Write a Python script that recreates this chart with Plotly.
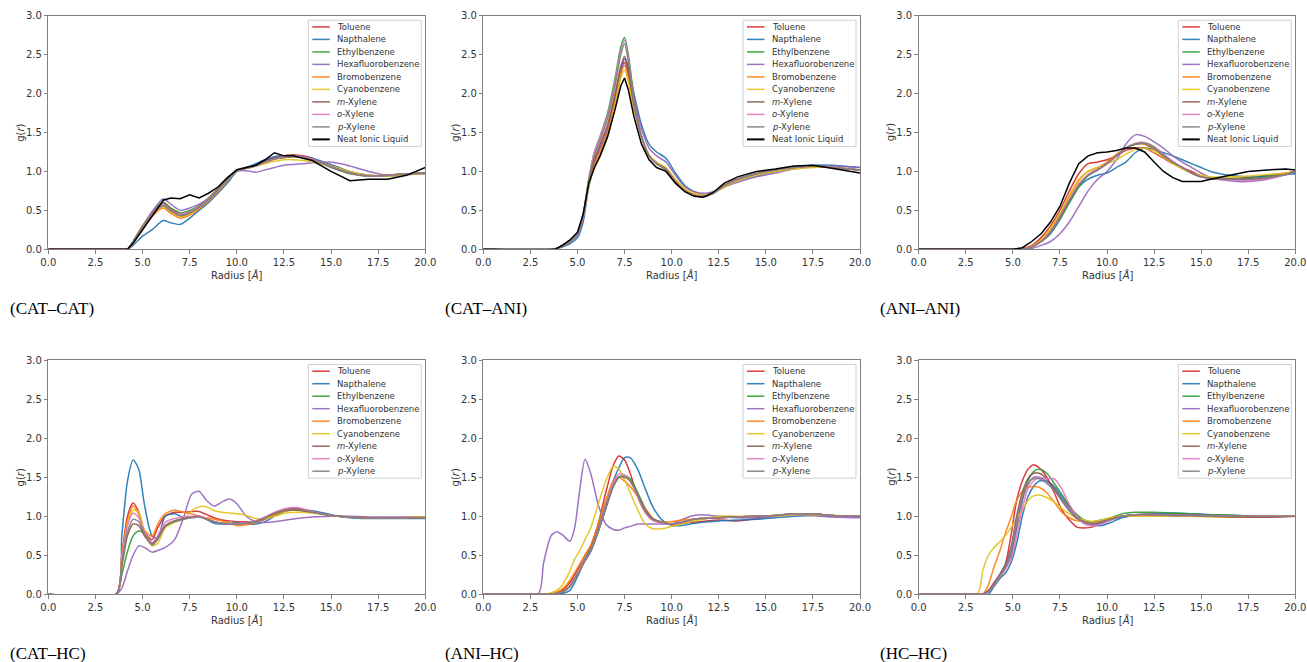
import plotly.graph_objects as go

# ---------------- labels / colours ----------------
SERIES = ["Toluene", "Napthalene", "Ethylbenzene", "Hexafluorobenzene", "Bromobenzene",
          "Cyanobenzene", "m-Xylene", "o-Xylene", "p-Xylene", "Neat Ionic Liquid"]
LEGEND_TEXT = ["Toluene", "Napthalene", "Ethylbenzene", "Hexafluorobenzene", "Bromobenzene",
               "Cyanobenzene", "<i>m</i>-Xylene", "<i>o</i>-Xylene", "<i>p</i>-Xylene", "Neat Ionic Liquid"]
COLORS = ["#d62728", "#1f77b4", "#2ca02c", "#9467bd", "#ff7f0e",
          "#e3c21a", "#8c564b", "#e377c2", "#7f7f7f", "#000000"]
PANEL_TITLES = ["(CAT–CAT)", "(CAT–ANI)", "(ANI–ANI)", "(CAT–HC)", "(ANI–HC)", "(HC–HC)"]
X_TICKS = [0.0, 2.5, 5.0, 7.5, 10.0, 12.5, 15.0, 17.5, 20.0]
Y_TICKS = [0.0, 0.5, 1.0, 1.5, 2.0, 2.5, 3.0]

# ---------------- CAT–CAT ----------------
r_catcat = [0, 4.0, 4.2, 4.5, 5.0, 5.5, 6.1, 6.5, 7.0, 7.5, 8.0, 8.5, 9.0, 9.5, 10.0, 10.5,
            11.0, 11.5, 12.0, 12.5, 13.0, 13.5, 14.0, 15.0, 16.0, 17.0, 18.0, 19.0, 20.0]
catcat_toluene = [0, 0, 0, 0.1, 0.3, 0.45, 0.6, 0.52, 0.45, 0.48, 0.55, 0.65, 0.78, 0.9, 1.02, 1.05, 1.08, 1.14, 1.18, 1.2, 1.21, 1.2, 1.17, 1.06, 0.98, 0.94, 0.95, 0.97, 0.98]
catcat_napthalene = [0, 0, 0, 0.05, 0.17, 0.25, 0.37, 0.34, 0.32, 0.4, 0.5, 0.6, 0.72, 0.85, 1.0, 1.05, 1.1, 1.15, 1.19, 1.2, 1.2, 1.19, 1.17, 1.09, 1.0, 0.95, 0.94, 0.96, 0.97]
catcat_ethyl = [0, 0, 0, 0.1, 0.3, 0.48, 0.6, 0.53, 0.47, 0.5, 0.56, 0.66, 0.78, 0.9, 1.02, 1.04, 1.07, 1.12, 1.16, 1.18, 1.19, 1.18, 1.15, 1.05, 0.97, 0.94, 0.95, 0.97, 0.98]
catcat_hexa = [0, 0, 0, 0.08, 0.28, 0.48, 0.65, 0.58, 0.5, 0.53, 0.58, 0.65, 0.75, 0.88, 1.0, 1.01, 0.99, 1.02, 1.05, 1.08, 1.09, 1.1, 1.11, 1.12, 1.07, 1.0, 0.95, 0.96, 0.97]
catcat_bromo = [0, 0, 0, 0.08, 0.25, 0.42, 0.53, 0.46, 0.4, 0.44, 0.52, 0.62, 0.74, 0.88, 1.01, 1.04, 1.07, 1.12, 1.16, 1.18, 1.19, 1.18, 1.15, 1.07, 0.99, 0.95, 0.95, 0.97, 0.98]
catcat_cyano = [0, 0, 0, 0.08, 0.27, 0.44, 0.55, 0.48, 0.42, 0.46, 0.54, 0.63, 0.75, 0.88, 1.01, 1.04, 1.07, 1.1, 1.13, 1.15, 1.15, 1.14, 1.12, 1.07, 1.0, 0.95, 0.94, 0.96, 0.97]
catcat_mxyl = [0, 0, 0, 0.09, 0.28, 0.45, 0.57, 0.5, 0.44, 0.47, 0.54, 0.64, 0.76, 0.89, 1.01, 1.04, 1.08, 1.13, 1.17, 1.2, 1.21, 1.19, 1.16, 1.06, 0.98, 0.94, 0.95, 0.97, 0.98]
catcat_oxyl = [0, 0, 0, 0.09, 0.29, 0.46, 0.58, 0.5, 0.45, 0.48, 0.55, 0.65, 0.77, 0.89, 1.01, 1.04, 1.07, 1.12, 1.16, 1.19, 1.2, 1.19, 1.16, 1.06, 0.98, 0.94, 0.95, 0.97, 0.98]
catcat_pxyl = [0, 0, 0, 0.09, 0.28, 0.45, 0.56, 0.49, 0.43, 0.47, 0.54, 0.64, 0.76, 0.89, 1.01, 1.04, 1.07, 1.12, 1.16, 1.18, 1.19, 1.18, 1.15, 1.06, 0.98, 0.94, 0.95, 0.97, 0.98]
catcat_neat = [0, 0, 0, 0.08, 0.25, 0.42, 0.63, 0.66, 0.65, 0.7, 0.66, 0.72, 0.8, 0.92, 1.02, 1.05, 1.08, 1.15, 1.24, 1.2, 1.2, 1.17, 1.14, 1.0, 0.88, 0.9, 0.9, 0.95, 1.05]

# ---------------- CAT–ANI ----------------
r_catani = [0, 3.8, 4.2, 4.6, 5.0, 5.3, 5.6, 5.9, 6.2, 6.6, 7.0, 7.3, 7.5, 7.7, 8.0, 8.4, 8.8,
            9.2, 9.7, 10.2, 10.7, 11.2, 11.7, 12.2, 12.8, 13.5, 14.5, 15.5, 16.5, 17.5, 18.5, 20.0]
catani_toluene = [0, 0, 0.05, 0.1, 0.2, 0.42, 0.85, 1.1, 1.3, 1.55, 1.95, 2.3, 2.4, 2.25, 1.85, 1.45, 1.2, 1.1, 1.03, 0.88, 0.76, 0.7, 0.68, 0.72, 0.82, 0.9, 0.97, 1.02, 1.05, 1.07, 1.05, 1.02]
catani_napthalene = [0, 0, 0.03, 0.07, 0.15, 0.35, 0.8, 1.05, 1.2, 1.45, 1.85, 2.25, 2.45, 2.35, 2.0, 1.6, 1.35, 1.25, 1.17, 0.98, 0.82, 0.74, 0.7, 0.72, 0.8, 0.88, 0.94, 1.0, 1.05, 1.08, 1.08, 1.05]
catani_ethyl = [0, 0, 0.05, 0.1, 0.2, 0.45, 0.9, 1.25, 1.45, 1.75, 2.2, 2.6, 2.72, 2.5, 1.95, 1.45, 1.2, 1.1, 1.02, 0.86, 0.75, 0.69, 0.68, 0.72, 0.82, 0.9, 0.97, 1.02, 1.05, 1.07, 1.05, 1.02]
catani_hexa = [0, 0, 0.04, 0.09, 0.18, 0.4, 0.85, 1.15, 1.3, 1.55, 1.95, 2.3, 2.45, 2.3, 1.95, 1.55, 1.3, 1.2, 1.12, 0.95, 0.8, 0.74, 0.72, 0.74, 0.8, 0.86, 0.93, 0.98, 1.03, 1.06, 1.07, 1.05]
catani_bromo = [0, 0, 0.05, 0.1, 0.2, 0.42, 0.85, 1.1, 1.25, 1.5, 1.9, 2.25, 2.36, 2.2, 1.8, 1.45, 1.2, 1.1, 1.03, 0.88, 0.76, 0.7, 0.68, 0.72, 0.82, 0.9, 0.97, 1.02, 1.05, 1.07, 1.05, 1.02]
catani_cyano = [0, 0, 0.05, 0.1, 0.2, 0.42, 0.82, 1.05, 1.2, 1.45, 1.85, 2.2, 2.3, 2.15, 1.8, 1.45, 1.22, 1.12, 1.05, 0.9, 0.78, 0.72, 0.7, 0.72, 0.8, 0.88, 0.95, 1.0, 1.03, 1.05, 1.05, 1.02]
catani_mxyl = [0, 0, 0.05, 0.1, 0.2, 0.43, 0.87, 1.15, 1.35, 1.6, 2.0, 2.35, 2.48, 2.3, 1.85, 1.45, 1.2, 1.1, 1.03, 0.87, 0.75, 0.69, 0.68, 0.72, 0.82, 0.9, 0.97, 1.02, 1.05, 1.07, 1.05, 1.02]
catani_oxyl = [0, 0, 0.05, 0.1, 0.2, 0.45, 0.9, 1.25, 1.45, 1.72, 2.15, 2.55, 2.68, 2.45, 1.9, 1.45, 1.2, 1.1, 1.02, 0.86, 0.75, 0.69, 0.68, 0.72, 0.82, 0.9, 0.97, 1.02, 1.05, 1.07, 1.05, 1.02]
catani_pxyl = [0, 0, 0.05, 0.1, 0.2, 0.44, 0.88, 1.2, 1.4, 1.68, 2.1, 2.5, 2.64, 2.42, 1.9, 1.45, 1.2, 1.1, 1.02, 0.86, 0.75, 0.69, 0.68, 0.72, 0.82, 0.9, 0.97, 1.02, 1.05, 1.07, 1.05, 1.02]
catani_neat = [0, 0, 0.05, 0.12, 0.22, 0.45, 0.85, 1.05, 1.2, 1.45, 1.8, 2.1, 2.2, 2.05, 1.7, 1.35, 1.15, 1.05, 1.0, 0.85, 0.74, 0.68, 0.67, 0.73, 0.85, 0.93, 1.0, 1.03, 1.07, 1.08, 1.04, 0.98]

# ---------------- ANI–ANI ----------------
r_aniani = [0, 5.0, 5.5, 6.0, 6.5, 7.0, 7.5, 8.0, 8.5, 9.0, 9.5, 10.0, 10.5, 11.0, 11.5, 12.0,
            12.5, 13.0, 13.5, 14.0, 14.5, 15.0, 15.5, 16.5, 17.5, 18.5, 19.5, 20.0]
aniani_toluene = [0, 0, 0.01, 0.05, 0.15, 0.3, 0.5, 0.75, 0.97, 1.1, 1.12, 1.15, 1.2, 1.27, 1.3, 1.3, 1.24, 1.17, 1.1, 1.05, 1.0, 0.94, 0.91, 0.91, 0.92, 0.95, 0.98, 1.0]
aniani_napthalene = [0, 0, 0, 0.03, 0.1, 0.2, 0.38, 0.6, 0.8, 0.9, 0.95, 0.98, 1.05, 1.12, 1.24, 1.3, 1.28, 1.24, 1.2, 1.15, 1.1, 1.05, 1.0, 0.95, 0.93, 0.94, 0.96, 0.97]
aniani_ethyl = [0, 0, 0, 0.03, 0.1, 0.22, 0.4, 0.6, 0.8, 0.95, 1.02, 1.1, 1.2, 1.3, 1.36, 1.37, 1.32, 1.22, 1.12, 1.05, 0.98, 0.93, 0.92, 0.91, 0.91, 0.93, 0.97, 1.0]
aniani_hexa = [0, 0, 0, 0.01, 0.05, 0.1, 0.2, 0.35, 0.55, 0.75, 0.9, 1.0, 1.15, 1.35, 1.47, 1.45, 1.38, 1.3, 1.2, 1.12, 1.05, 0.98, 0.92, 0.88, 0.87, 0.9, 0.96, 1.0]
aniani_bromo = [0, 0, 0, 0.04, 0.12, 0.25, 0.45, 0.68, 0.88, 1.0, 1.05, 1.12, 1.22, 1.3, 1.35, 1.35, 1.28, 1.2, 1.12, 1.05, 0.98, 0.93, 0.91, 0.9, 0.9, 0.92, 0.97, 1.0]
aniani_cyano = [0, 0, 0, 0.04, 0.12, 0.27, 0.47, 0.7, 0.9, 1.0, 1.05, 1.1, 1.15, 1.22, 1.28, 1.3, 1.25, 1.18, 1.1, 1.03, 0.98, 0.95, 0.93, 0.93, 0.94, 0.96, 0.98, 1.0]
aniani_mxyl = [0, 0, 0, 0.03, 0.1, 0.22, 0.42, 0.63, 0.83, 0.95, 1.02, 1.1, 1.2, 1.3, 1.35, 1.36, 1.3, 1.2, 1.12, 1.05, 0.98, 0.93, 0.91, 0.9, 0.9, 0.92, 0.96, 1.0]
aniani_oxyl = [0, 0, 0, 0.03, 0.1, 0.23, 0.42, 0.64, 0.84, 0.96, 1.03, 1.1, 1.2, 1.3, 1.36, 1.37, 1.31, 1.22, 1.13, 1.05, 0.98, 0.93, 0.91, 0.89, 0.88, 0.91, 0.96, 1.0]
aniani_pxyl = [0, 0, 0, 0.03, 0.1, 0.22, 0.41, 0.62, 0.82, 0.95, 1.02, 1.1, 1.2, 1.3, 1.35, 1.36, 1.3, 1.2, 1.12, 1.05, 0.98, 0.93, 0.91, 0.9, 0.9, 0.92, 0.96, 1.0]
aniani_neat = [0, 0, 0.02, 0.1, 0.2, 0.35, 0.55, 0.85, 1.1, 1.2, 1.24, 1.25, 1.27, 1.3, 1.3, 1.25, 1.12, 1.0, 0.92, 0.87, 0.87, 0.87, 0.9, 0.95, 1.0, 1.02, 1.03, 1.02]

# ---------------- CAT–HC ----------------
r_cathc = [0, 3.6, 3.9, 4.2, 4.5, 4.8, 5.1, 5.5, 5.8, 6.2, 6.7, 7.2, 7.6, 8.0, 8.4, 8.8, 9.2,
           9.6, 10.0, 10.5, 11.0, 11.5, 12.0, 12.6, 13.2, 14.0, 15.0, 16.0, 17.0, 18.5, 20.0]
cathc_toluene = [0, 0, 0.5, 1.0, 1.17, 1.05, 0.8, 0.7, 0.85, 1.0, 1.05, 1.05, 1.06, 1.06, 1.02, 0.98, 0.95, 0.94, 0.93, 0.93, 0.93, 0.96, 1.02, 1.09, 1.1, 1.06, 1.01, 0.99, 0.98, 0.98, 0.99]
cathc_napthalene = [0, 0, 0.75, 1.45, 1.72, 1.6, 1.15, 0.75, 0.72, 1.0, 1.03, 0.98, 0.99, 1.0, 0.96, 0.91, 0.9, 0.9, 0.92, 0.9, 0.9, 0.93, 1.0, 1.07, 1.08, 1.07, 1.02, 0.98, 0.97, 0.97, 0.97]
cathc_ethyl = [0, 0, 0.25, 0.55, 0.75, 0.81, 0.78, 0.66, 0.72, 0.87, 0.94, 0.97, 0.99, 1.0, 0.96, 0.93, 0.91, 0.91, 0.91, 0.92, 0.94, 0.98, 1.03, 1.07, 1.08, 1.05, 1.01, 0.99, 0.98, 0.98, 0.98]
cathc_hexa = [0, 0, 0.08, 0.3, 0.5, 0.62, 0.6, 0.54, 0.56, 0.6, 0.7, 1.0, 1.28, 1.32, 1.2, 1.13, 1.18, 1.22, 1.16, 1.0, 0.93, 0.92, 0.93, 0.95, 0.97, 0.99, 1.0, 1.0, 0.99, 0.99, 0.99]
cathc_bromo = [0, 0, 0.5, 0.95, 1.13, 1.02, 0.82, 0.74, 0.9, 1.03, 1.08, 1.05, 1.03, 1.0, 0.98, 0.96, 0.94, 0.91, 0.88, 0.89, 0.92, 0.97, 1.02, 1.07, 1.08, 1.05, 1.01, 0.99, 0.98, 0.98, 0.99]
cathc_cyano = [0, 0, 0.45, 0.9, 1.08, 1.05, 0.8, 0.62, 0.65, 0.85, 0.92, 0.97, 1.07, 1.12, 1.12, 1.07, 1.05, 1.04, 1.03, 1.01, 0.97, 0.97, 1.0, 1.04, 1.05, 1.04, 1.01, 0.99, 0.98, 0.98, 0.99]
cathc_mxyl = [0, 0, 0.35, 0.75, 0.9, 0.88, 0.75, 0.64, 0.72, 0.88, 0.94, 0.97, 0.99, 1.0, 0.96, 0.93, 0.91, 0.9, 0.9, 0.91, 0.93, 0.98, 1.04, 1.08, 1.08, 1.05, 1.01, 0.99, 0.98, 0.98, 0.98]
cathc_oxyl = [0, 0, 0.45, 0.88, 1.04, 0.98, 0.8, 0.66, 0.75, 0.92, 0.97, 0.99, 1.0, 1.0, 0.97, 0.93, 0.91, 0.9, 0.91, 0.92, 0.94, 0.99, 1.05, 1.1, 1.11, 1.06, 1.01, 0.99, 0.98, 0.98, 0.98]
cathc_pxyl = [0, 0, 0.4, 0.8, 0.96, 0.93, 0.78, 0.63, 0.7, 0.87, 0.93, 0.96, 0.98, 0.99, 0.96, 0.93, 0.91, 0.9, 0.9, 0.91, 0.93, 0.98, 1.04, 1.08, 1.09, 1.05, 1.01, 0.99, 0.98, 0.98, 0.98]

# ---------------- ANI–HC ----------------
r_anihc = [0, 2.9, 3.2, 3.6, 3.9, 4.2, 4.6, 4.85, 5.1, 5.4, 5.7, 6.1, 6.5, 6.9, 7.2, 7.5, 7.8,
           8.2, 8.6, 9.0, 9.5, 10.0, 10.5, 11.0, 11.5, 12.5, 13.5, 14.5, 15.5, 16.5, 17.5, 18.5, 20.0]
anihc_toluene = [0, 0, 0, 0, 0.02, 0.05, 0.15, 0.25, 0.35, 0.5, 0.62, 0.9, 1.3, 1.65, 1.77, 1.72, 1.55, 1.25, 1.05, 0.95, 0.92, 0.9, 0.91, 0.92, 0.93, 0.95, 0.94, 0.97, 1.0, 1.03, 1.03, 1.01, 1.0]
anihc_napthalene = [0, 0, 0, 0, 0, 0.01, 0.05, 0.15, 0.28, 0.45, 0.6, 0.85, 1.15, 1.45, 1.62, 1.75, 1.75, 1.6, 1.35, 1.12, 0.95, 0.88, 0.88, 0.9, 0.92, 0.94, 0.95, 0.96, 0.98, 1.0, 1.01, 1.0, 1.0]
anihc_ethyl = [0, 0, 0, 0, 0.01, 0.03, 0.1, 0.2, 0.3, 0.43, 0.55, 0.8, 1.1, 1.38, 1.5, 1.52, 1.48, 1.3, 1.1, 0.97, 0.92, 0.9, 0.92, 0.95, 0.97, 0.98, 0.99, 1.0, 1.01, 1.03, 1.03, 1.01, 1.0]
anihc_hexa = [0, 0, 0.4, 0.75, 0.8, 0.76, 0.68, 0.85, 1.3, 1.73, 1.55, 1.15, 0.9, 0.83, 0.82, 0.85, 0.87, 0.9, 0.9, 0.9, 0.9, 0.9, 0.95, 1.0, 1.02, 1.0, 0.98, 0.98, 1.0, 1.02, 1.01, 0.99, 0.98]
anihc_bromo = [0, 0, 0, 0.01, 0.03, 0.07, 0.18, 0.28, 0.38, 0.5, 0.62, 0.9, 1.2, 1.45, 1.5, 1.45, 1.38, 1.25, 1.1, 0.97, 0.93, 0.93, 0.95, 0.96, 0.97, 0.98, 0.99, 1.0, 1.01, 1.03, 1.03, 1.01, 1.0]
anihc_cyano = [0, 0, 0, 0.02, 0.05, 0.12, 0.3, 0.45, 0.55, 0.7, 0.85, 1.15, 1.45, 1.64, 1.6, 1.47, 1.3, 1.08, 0.9, 0.84, 0.84, 0.87, 0.9, 0.93, 0.95, 1.0, 1.0, 1.0, 1.0, 1.02, 1.02, 1.01, 1.0]
anihc_mxyl = [0, 0, 0, 0, 0.01, 0.03, 0.1, 0.2, 0.3, 0.43, 0.55, 0.8, 1.1, 1.38, 1.5, 1.5, 1.45, 1.28, 1.08, 0.97, 0.92, 0.9, 0.92, 0.95, 0.97, 0.98, 0.99, 1.0, 1.01, 1.03, 1.03, 1.01, 1.0]
anihc_oxyl = [0, 0, 0, 0, 0.01, 0.03, 0.1, 0.2, 0.3, 0.43, 0.55, 0.82, 1.12, 1.42, 1.54, 1.53, 1.45, 1.25, 1.05, 0.95, 0.91, 0.9, 0.92, 0.95, 0.97, 0.98, 0.99, 1.0, 1.01, 1.03, 1.03, 1.01, 1.0]
anihc_pxyl = [0, 0, 0, 0, 0.01, 0.03, 0.1, 0.2, 0.3, 0.43, 0.55, 0.8, 1.1, 1.38, 1.5, 1.5, 1.45, 1.27, 1.07, 0.96, 0.92, 0.9, 0.92, 0.95, 0.97, 0.98, 0.99, 1.0, 1.01, 1.03, 1.03, 1.01, 1.0]

# ---------------- HC–HC ----------------
r_hchc = [0, 3.1, 3.4, 3.7, 4.0, 4.3, 4.6, 4.9, 5.2, 5.5, 5.8, 6.1, 6.4, 6.8, 7.2, 7.6, 8.0,
          8.4, 8.8, 9.2, 9.7, 10.2, 10.8, 11.5, 12.5, 13.5, 14.5, 15.5, 17.0, 18.5, 20.0]
hchc_toluene = [0, 0, 0, 0.05, 0.15, 0.25, 0.38, 0.75, 1.2, 1.45, 1.6, 1.66, 1.62, 1.5, 1.3, 1.08, 0.95, 0.86, 0.85, 0.86, 0.92, 0.97, 1.0, 1.01, 1.02, 1.01, 1.01, 1.0, 0.99, 0.99, 1.0]
hchc_napthalene = [0, 0, 0, 0, 0.1, 0.2, 0.27, 0.4, 0.65, 1.0, 1.25, 1.38, 1.45, 1.45, 1.38, 1.25, 1.12, 1.0, 0.93, 0.89, 0.88, 0.92, 0.98, 1.01, 1.03, 1.04, 1.03, 1.02, 1.01, 1.0, 1.0]
hchc_ethyl = [0, 0, 0, 0.03, 0.12, 0.22, 0.33, 0.5, 0.85, 1.2, 1.45, 1.57, 1.6, 1.55, 1.42, 1.28, 1.13, 1.02, 0.95, 0.93, 0.95, 0.98, 1.03, 1.05, 1.05, 1.04, 1.03, 1.02, 1.01, 1.0, 1.0]
hchc_hexa = [0, 0, 0, 0.03, 0.13, 0.23, 0.35, 0.5, 0.85, 1.2, 1.4, 1.5, 1.5, 1.45, 1.35, 1.22, 1.1, 1.0, 0.93, 0.9, 0.91, 0.95, 1.0, 1.02, 1.03, 1.02, 1.02, 1.01, 1.0, 1.0, 1.0]
hchc_bromo = [0, 0, 0, 0.12, 0.35, 0.55, 0.78, 0.98, 1.2, 1.32, 1.37, 1.38, 1.37, 1.3, 1.18, 1.05, 0.98, 0.94, 0.93, 0.92, 0.94, 0.97, 1.0, 1.01, 1.01, 1.0, 1.0, 1.0, 1.0, 1.0, 1.0]
hchc_cyano = [0, 0, 0.3, 0.5, 0.6, 0.67, 0.75, 0.85, 0.97, 1.08, 1.2, 1.26, 1.27, 1.24, 1.18, 1.1, 1.03, 0.98, 0.95, 0.93, 0.95, 0.98, 1.0, 1.0, 1.0, 1.0, 1.0, 0.99, 0.99, 1.0, 1.0]
hchc_mxyl = [0, 0, 0, 0.04, 0.14, 0.25, 0.38, 0.6, 1.0, 1.3, 1.48, 1.55, 1.55, 1.48, 1.35, 1.2, 1.07, 0.97, 0.92, 0.9, 0.92, 0.96, 1.0, 1.02, 1.02, 1.01, 1.01, 1.0, 0.99, 0.99, 1.0]
hchc_oxyl = [0, 0, 0, 0.03, 0.12, 0.22, 0.32, 0.45, 0.75, 1.1, 1.35, 1.45, 1.5, 1.48, 1.48, 1.35, 1.15, 1.0, 0.9, 0.88, 0.9, 0.95, 1.0, 1.02, 1.02, 1.01, 1.01, 1.0, 1.0, 1.0, 1.0]
hchc_pxyl = [0, 0, 0, 0.04, 0.13, 0.24, 0.36, 0.55, 0.95, 1.25, 1.42, 1.48, 1.48, 1.42, 1.33, 1.2, 1.07, 0.98, 0.93, 0.91, 0.93, 0.96, 1.0, 1.02, 1.02, 1.01, 1.01, 1.0, 1.0, 1.0, 1.0]

PANELS = [
    (r_catcat, [catcat_toluene, catcat_napthalene, catcat_ethyl, catcat_hexa, catcat_bromo,
                catcat_cyano, catcat_mxyl, catcat_oxyl, catcat_pxyl, catcat_neat]),
    (r_catani, [catani_toluene, catani_napthalene, catani_ethyl, catani_hexa, catani_bromo,
                catani_cyano, catani_mxyl, catani_oxyl, catani_pxyl, catani_neat]),
    (r_aniani, [aniani_toluene, aniani_napthalene, aniani_ethyl, aniani_hexa, aniani_bromo,
                aniani_cyano, aniani_mxyl, aniani_oxyl, aniani_pxyl, aniani_neat]),
    (r_cathc, [cathc_toluene, cathc_napthalene, cathc_ethyl, cathc_hexa, cathc_bromo,
               cathc_cyano, cathc_mxyl, cathc_oxyl, cathc_pxyl]),
    (r_anihc, [anihc_toluene, anihc_napthalene, anihc_ethyl, anihc_hexa, anihc_bromo,
               anihc_cyano, anihc_mxyl, anihc_oxyl, anihc_pxyl]),
    (r_hchc, [hchc_toluene, hchc_napthalene, hchc_ethyl, hchc_hexa, hchc_bromo,
              hchc_cyano, hchc_mxyl, hchc_oxyl, hchc_pxyl]),
]

# ---------------- layout geometry (pixels) ----------------
W, H = 1307, 662
AX_PX = [(48.3, 425.3, 15.7, 249.3), (483.3, 860.0, 15.7, 249.3), (918.7, 1295.3, 15.7, 249.3),
         (48.3, 425.3, 360.0, 594.3), (483.3, 860.0, 360.0, 594.3), (918.7, 1295.3, 360.0, 594.3)]
LABEL_PX = [(8, 309), (443, 309), (878, 309), (8, 653), (443, 653), (878, 653)]


def px(x):
    return x / W


def py(y):
    return 1 - y / H


fig = go.Figure()
shapes = []
annotations = []
AXCOL = "#808080"
TXTCOL = "#333333"

for i, (r, ys) in enumerate(PANELS):
    n = i + 1
    xa = "x" if n == 1 else f"x{n}"
    ya = "y" if n == 1 else f"y{n}"
    for k, yv in enumerate(ys):
        neat = k == 9
        fig.add_trace(go.Scatter(
            x=r, y=yv, mode="lines", name=SERIES[k], xaxis=xa, yaxis=ya,
            showlegend=False, opacity=1.0 if neat else 0.9,
            line=dict(color=COLORS[k], width=1.5,
                      shape="linear" if neat else "spline", smoothing=0.7),
        ))
    x0, x1, y0, y1 = AX_PX[i]
    axkw = dict(showline=True, mirror=True, linecolor=AXCOL, linewidth=1, ticks="outside",
                ticklen=3.5, tickcolor=AXCOL, showgrid=False, zeroline=False, automargin=False,
                tickfont=dict(family="DejaVu Sans", size=10, color=TXTCOL))
    fig.layout[f"xaxis{'' if n == 1 else n}"] = dict(
        domain=[px(x0), px(x1)], range=[0, 20], tickvals=X_TICKS,
        ticktext=[f"{v:.1f}" for v in X_TICKS], anchor=ya, **axkw)
    fig.layout[f"yaxis{'' if n == 1 else n}"] = dict(
        domain=[py(y1), py(y0)], range=[0, 3], tickvals=Y_TICKS,
        ticktext=[f"{v:.1f}" for v in Y_TICKS], anchor=xa, **axkw)

    # axis titles
    annotations.append(dict(text="Radius [<i>Å</i>]", x=px((x0 + x1) / 2), y=py(y1 + 26),
                            xref="paper", yref="paper", showarrow=False,
                            font=dict(family="DejaVu Sans", size=10, color=TXTCOL),
                            xanchor="center", yanchor="middle"))
    annotations.append(dict(text="g(<i>r</i>)", x=px(x0 - 28), y=py((y0 + y1) / 2),
                            xref="paper", yref="paper", showarrow=False, textangle=-90,
                            font=dict(family="DejaVu Sans", size=10, color=TXTCOL),
                            xanchor="center", yanchor="middle"))
    # panel label
    lx, ly = LABEL_PX[i]
    annotations.append(dict(text=PANEL_TITLES[i], x=px(lx), y=py(ly), xref="paper", yref="paper",
                            showarrow=False, xanchor="left", yanchor="middle",
                            font=dict(family="Liberation Serif", size=17, color="black")))

    # legend box
    nitems = len(ys)
    bx1 = x1 - 4
    bx0 = bx1 - 113
    by0 = y0 + 4.5
    by1 = by0 + 6.7 + (nitems - 1) * 12.5 + 7
    shapes.append(dict(type="rect", xref="paper", yref="paper", x0=px(bx0), x1=px(bx1),
                       y0=py(by1), y1=py(by0), fillcolor="rgba(255,255,255,0.85)",
                       line=dict(color="#d0d0d0", width=1), layer="above"))
    for k in range(nitems):
        cy = by0 + 6.7 + k * 12.5
        neat = k == 9
        shapes.append(dict(type="line", xref="paper", yref="paper", x0=px(bx0 + 4),
                           x1=px(bx0 + 21.5), y0=py(cy), y1=py(cy), layer="above",
                           opacity=1.0 if neat else 0.9,
                           line=dict(color=COLORS[k], width=2 if neat else 1.5)))
        annotations.append(dict(text=LEGEND_TEXT[k], x=px(bx0 + 27), y=py(cy), xref="paper",
                                yref="paper", showarrow=False, xanchor="left", yanchor="middle",
                                font=dict(family="DejaVu Sans", size=8.5, color=TXTCOL)))

fig.update_layout(width=W, height=H, margin=dict(l=0, r=0, t=0, b=0, pad=0, autoexpand=False),
                  paper_bgcolor="white", plot_bgcolor="white", showlegend=False,
                  shapes=shapes, annotations=annotations)

# remove the browser's default page margin so the 1307x662 figure fills the window exactly
fig.write_html("out.html", config={"displayModeBar": False},
               post_script="document.body.style.margin='0';document.body.style.overflow='hidden';")
